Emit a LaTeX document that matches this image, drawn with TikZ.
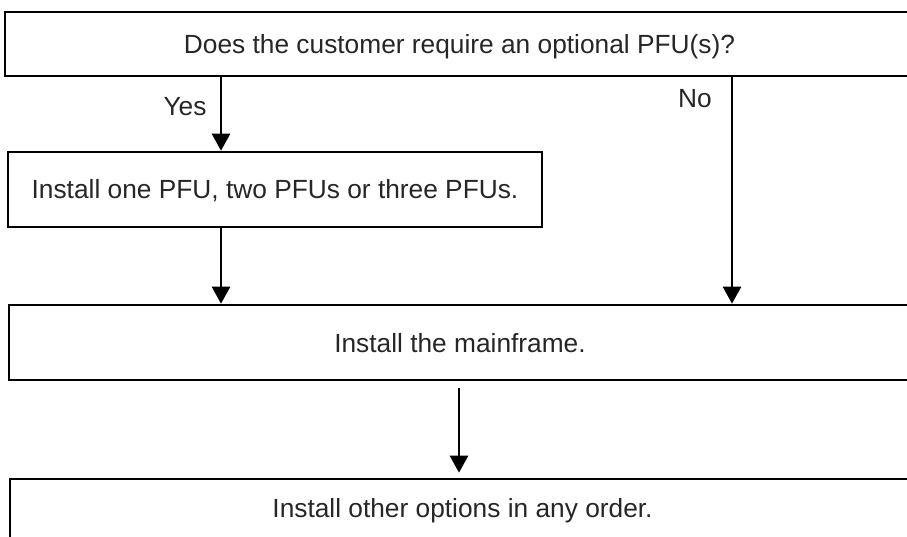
\documentclass[tikz,border=0pt]{standalone}
\usepackage{fontspec}
\setmainfont{Liberation Sans}
\usetikzlibrary{arrows.meta}
\begin{document}
\begin{tikzpicture}[x=1pt,y=-1pt,
  box/.style={draw=black, line width=2.6pt, rectangle, inner sep=0pt,
    font=\fontsize{26.3}{30}\selectfont, text=black!85, text height=19pt, text depth=0pt},
  arr/.style={line width=2.6pt, -{Triangle[width=18pt,length=17pt]}},
  lbl/.style={font=\fontsize{26.3}{30}\selectfont, text=black!85, inner sep=0pt,
    text height=19pt, text depth=0pt}]
\clip (0,0) rectangle (907,537);
\node[box, minimum width=909pt, minimum height=64pt] (top) at (459.5,44)
  {Does the customer require an optional PFU(s)?};
\node[box, minimum width=534pt, minimum height=75pt] (pfu) at (275,189.5)
  {Install one PFU, two PFUs or three PFUs.};
\node[box, minimum width=902pt, minimum height=75pt] (main) at (460,342.5)
  {Install the mainframe.};
\node[box, minimum width=904pt, minimum height=75pt] (bot) at (462,516.5) {};
\node[lbl] (bottxt) at (462.5,508) {Install other options in any order.};
\coordinate (cy) at (221,0);
\coordinate (cn) at (732,0);
\coordinate (cm) at (459,0);
\draw[arr] (top.south -| cy) -- (pfu.north -| cy);
\draw[arr] (pfu.south -| cy) -- (main.north -| cy);
\draw[arr] (top.south -| cn) -- (main.north -| cn);
\draw[arr, shorten <=7pt, shorten >=5pt] (main.south -| cm) -- (bot.north -| cm);
\node[lbl] (yes) at (185,106) {Yes};
\node[lbl] (no) at (695,98) {No};
\end{tikzpicture}
\end{document}
